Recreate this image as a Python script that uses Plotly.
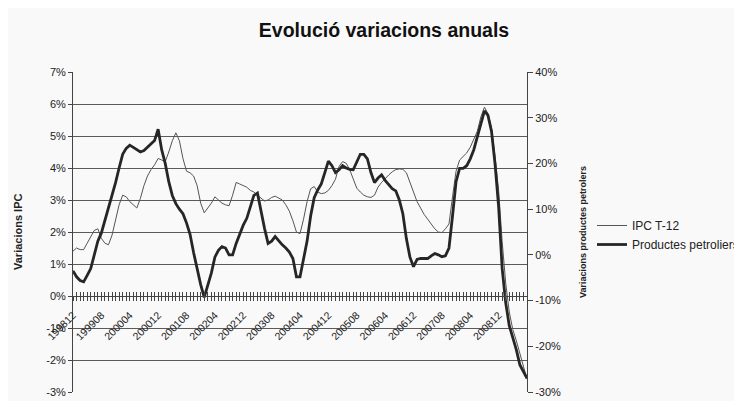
"""Evolució variacions anuals: IPC T-12 vs productes petrolers."""

import plotly.graph_objects as go

# month index 0 = 199812, one point per month up to 200908
tick_pos = [0, 8, 16, 24, 32, 40, 48, 56, 64, 72, 80, 88, 96, 104, 112, 120]
tick_labels = ["199812", "199908", "200004", "200012", "200108", "200204",
               "200212", "200308", "200404", "200412", "200508", "200604",
               "200612", "200708", "200804", "200812"]

ipc = [1.4, 1.5, 1.45, 1.45, 1.65, 1.85, 2.05, 2.1, 1.8, 1.65,
       1.6, 1.9, 2.35, 2.85, 3.15, 3.1, 2.95, 2.85, 2.75, 3.05,
       3.45, 3.75, 3.95, 4.1, 4.3, 4.25, 4.2, 4.5, 4.85, 5.1,
       4.85, 4.3, 3.9, 3.85, 3.75, 3.45, 2.9, 2.6, 2.75, 2.9,
       3.1, 3.0, 2.9, 2.85, 2.82, 3.15, 3.55, 3.5, 3.45, 3.4,
       3.3, 3.25, 3.15, 3.05, 2.97, 3.0, 3.08, 3.12, 3.05, 3.0,
       2.85, 2.65, 2.35, 2.0, 1.95, 2.4, 2.95, 3.35, 3.42, 3.25,
       3.2, 3.22, 3.3, 3.45, 3.65, 4.05, 4.2, 4.15, 3.95, 3.65,
       3.37, 3.25, 3.15, 3.1, 3.08, 3.15, 3.4, 3.55, 3.68, 3.78,
       3.88, 3.95, 3.97, 3.96, 3.85, 3.55, 3.2, 2.95, 2.75, 2.55,
       2.4, 2.25, 2.1, 2.0, 1.98, 2.1, 2.25, 3.1, 3.9, 4.25,
       4.35, 4.47, 4.65, 4.9, 5.15, 5.6, 5.9, 5.7, 5.25, 4.35,
       3.3, 1.7, 0.4, -0.5, -1.05, -1.4, -1.8, -2.25, -2.6]

petroliers = [-3.5, -4.8, -5.6, -5.9, -4.5, -3.0, 0.0, 3.0, 4.8, 7.5,
              10.0, 12.8, 15.8, 19.0, 22.0, 23.3, 24.0, 23.5, 22.9, 22.5,
              22.8, 23.6, 24.3, 25.0, 27.5, 23.0, 20.0, 16.0, 13.0, 11.2,
              10.0, 9.0, 7.0, 4.5, 0.5, -3.2, -6.5, -9.3, -6.8, -4.0,
              -0.5, 1.0, 1.8, 1.5, 0.0, 0.0, 2.5, 4.5, 6.5, 8.0,
              10.5, 13.0, 13.5, 9.5, 5.8, 2.5, 3.0, 4.0, 3.0, 2.2,
              1.5, 0.6, -0.8, -4.8, -4.8, -1.0, 3.0, 8.5, 12.5, 14.2,
              15.5, 18.0, 20.5, 19.5, 18.0, 18.6, 19.5, 19.0, 18.7, 18.6,
              20.4, 22.0, 22.0, 21.0, 18.0, 15.8, 16.8, 17.5, 16.3, 15.3,
              14.5, 14.0, 12.0, 9.0, 3.5, -0.5, -2.6, -1.0, -0.8, -0.8,
              -0.8, -0.2, 0.3, 0.0, -0.4, -0.2, 1.5, 8.5, 16.0, 18.9,
              18.9, 19.5, 21.0, 23.0, 26.0, 29.0, 31.5, 30.5, 27.0, 19.8,
              10.5, -3.0, -10.5, -15.5, -18.0, -20.8, -24.1, -25.5, -27.0]

left_vals = [-3, -2, -1, 0, 1, 2, 3, 4, 5, 6, 7]
left_text = ["-3%", "-2%", "-1%", "0%", "1%", "2%", "3%", "4%", "5%", "6%", "7%"]
right_vals = [-30, -20, -10, 0, 10, 20, 30, 40]
right_text = ["-30%", "-20%", "-10%", "0%", "10%", "20%", "30%", "40%"]

FONT = "Liberation Sans, Arial, sans-serif"
INK = "#222222"

# the page adds an 8px body margin, so the figure is drawn 8px smaller
W, H = 734, 393
L, R, T, B = 65, 215, 64, 9
PW = W - L - R


def main():
    months = list(range(len(ipc)))
    all_text = [""] * len(months)
    for p, lab in zip(tick_pos, tick_labels):
        all_text[p] = lab

    fig = go.Figure()
    fig.add_trace(go.Scatter(x=months, y=ipc, mode="lines", name="IPC T-12",
                             line=dict(color="#555555", width=1),
                             xaxis="x", yaxis="y"))
    fig.add_trace(go.Scatter(x=months, y=petroliers, mode="lines",
                             name="Productes petroliers",
                             line=dict(color="#262626", width=2.8),
                             xaxis="x2", yaxis="y2"))

    fig.update_layout(
        width=W, height=H,
        margin=dict(l=L, r=R, t=T, b=B),
        paper_bgcolor="#f9f9f9", plot_bgcolor="#f9f9f9",
        font=dict(family=FONT, color=INK, size=11),
        title=dict(text="<b>Evolució variacions anuals</b>",
                   font=dict(size=19.5, color="#111111"),
                   x=376 / W, xref="container", xanchor="center",
                   y=1 - 22 / H, yref="container", yanchor="middle"),
        xaxis=dict(range=[0, len(months) - 1], anchor="free", position=0.3,
                   tickmode="array", tickvals=months, ticktext=all_text,
                   tickangle=-45, tickfont=dict(size=10.5),
                   ticklabelstandoff=4,
                   ticks="outside", ticklen=4, tickcolor="#444444",
                   showline=True, linecolor="#444444", linewidth=1,
                   showgrid=False, zeroline=False, automargin=False),
        xaxis2=dict(range=[0, len(months) - 1], overlaying="x",
                    anchor="free", position=0.3,
                    tickmode="array", tickvals=months,
                    showticklabels=False, ticks="inside", ticklen=4,
                    tickcolor="#444444", showline=False, showgrid=False,
                    zeroline=False, automargin=False),
        yaxis=dict(range=[-3, 7], tickmode="array", tickvals=left_vals,
                   ticktext=left_text, ticks="outside", ticklen=4,
                   tickcolor="#444444", showline=True, linecolor="#444444",
                   showgrid=True, gridcolor="#5a5a5a", gridwidth=1,
                   zeroline=False, tickfont=dict(size=11), automargin=False),
        yaxis2=dict(range=[-30, 40], overlaying="y", side="right",
                    anchor="x2", tickmode="array", tickvals=right_vals,
                    ticktext=right_text, ticks="outside", ticklen=5,
                    tickcolor="#444444", showline=True, linecolor="#444444",
                    showgrid=False, zeroline=False, tickfont=dict(size=11),
                    automargin=False),
        legend=dict(x=584 / W, y=1 - 203 / H, xref="container",
                    yref="container", xanchor="left", yanchor="top",
                    font=dict(size=12), bgcolor="rgba(0,0,0,0)",
                    itemwidth=30, tracegroupgap=0),
        annotations=[
            dict(text="<b>Variacions IPC</b>", textangle=-90,
                 xref="paper", yref="paper", x=(10 - L) / PW, y=0.5,
                 xanchor="center", yanchor="middle",
                 showarrow=False, font=dict(size=11)),
            dict(text="<b>Variacions productes petrolers</b>", textangle=-90,
                 xref="paper", yref="paper", x=(575 - L) / PW, y=0.5,
                 xanchor="center", yanchor="middle",
                 showarrow=False, font=dict(size=9)),
        ],
    )
    fig.write_html("out.html")


if __name__ == "__main__":
    main()
